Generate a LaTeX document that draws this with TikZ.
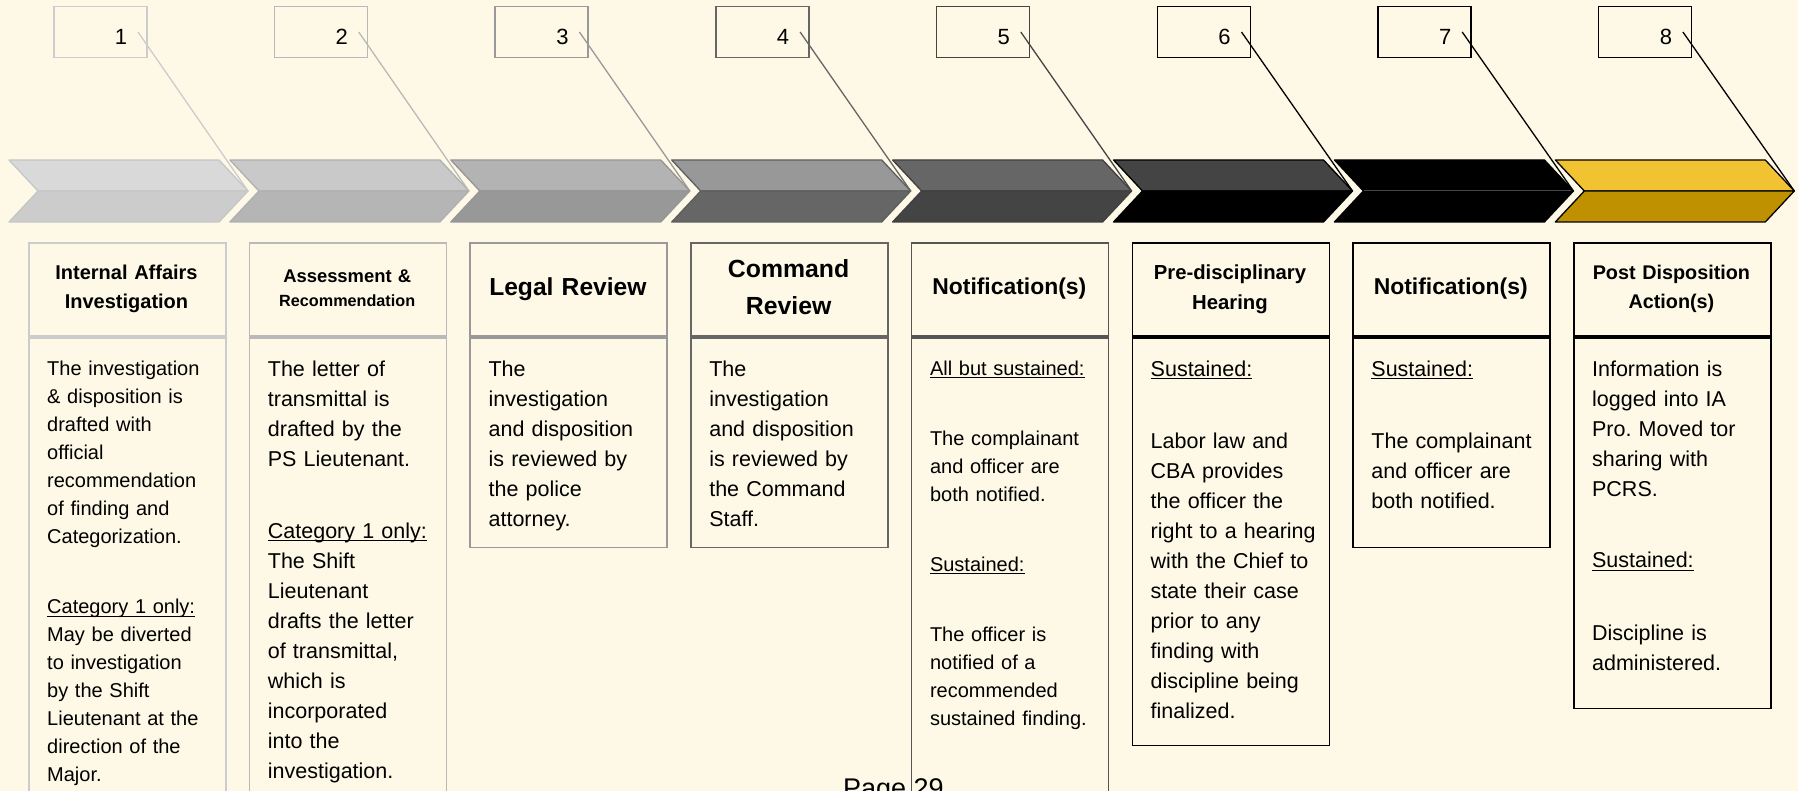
\documentclass[tikz,border=0pt]{standalone}
\usepackage{fontspec}
\setmainfont{Liberation Sans}
\frenchspacing
\definecolor{bg}{HTML}{FEF9E6}
% chevron colours
\definecolor{top1}{HTML}{D9D9D9}\definecolor{bot1}{HTML}{CCCCCC}\definecolor{out1}{HTML}{C6C6C6}\definecolor{ln1}{HTML}{CCCCCC}
\definecolor{top2}{HTML}{C9C9C9}\definecolor{bot2}{HTML}{B5B5B5}\definecolor{out2}{HTML}{B0B0B0}\definecolor{ln2}{HTML}{B9B9B9}
\definecolor{top3}{HTML}{B3B3B3}\definecolor{bot3}{HTML}{989898}\definecolor{out3}{HTML}{969696}\definecolor{ln3}{HTML}{999999}
\definecolor{top4}{HTML}{989898}\definecolor{bot4}{HTML}{666666}\definecolor{out4}{HTML}{5E5E5E}\definecolor{ln4}{HTML}{666666}
\definecolor{top5}{HTML}{666666}\definecolor{bot5}{HTML}{444444}\definecolor{out5}{HTML}{404040}\definecolor{ln5}{HTML}{444444}
\definecolor{top6}{HTML}{444444}\definecolor{bot6}{HTML}{000000}\definecolor{out6}{HTML}{000000}\definecolor{ln6}{HTML}{000000}
\definecolor{top7}{HTML}{000000}\definecolor{bot7}{HTML}{000000}\definecolor{out7}{HTML}{000000}\definecolor{ln7}{HTML}{000000}
\definecolor{top8}{HTML}{F1C232}\definecolor{bot8}{HTML}{BF9000}\definecolor{out8}{HTML}{000000}\definecolor{ln8}{HTML}{000000}
% column box colours
\definecolor{cb1}{HTML}{CCCCCC}\definecolor{cb2}{HTML}{B9B9B9}\definecolor{cb3}{HTML}{999999}\definecolor{cb4}{HTML}{666666}
\definecolor{cb5}{HTML}{555555}\definecolor{cb6}{HTML}{000000}\definecolor{cb7}{HTML}{000000}\definecolor{cb8}{HTML}{000000}
\definecolor{split7}{HTML}{464646}
\newcommand{\myul}[1]{\leavevmode\setbox0\hbox{#1}\rlap{\rule[-3pt]{\wd0}{1.1pt}}\box0}
\newcommand{\bst}{\rule{0pt}{22pt}}
\newcommand{\hst}{\rule{0pt}{30pt}}
\begin{document}
\begin{tikzpicture}[x=1pt,y=-1pt,
  numbox/.style={draw, line width=1.5pt, inner sep=0, minimum width=93pt, minimum height=51pt, anchor=north west},
  numtext/.style={inner sep=0, font=\fontsize{22}{24}\selectfont},
  hdrbox/.style={draw, line width=1.6pt, inner sep=0, minimum width=197pt, minimum height=93pt, anchor=north west},
  bodybox/.style={draw, line width=1.6pt, inner sep=0, minimum width=197pt, anchor=north west},
  hdrtext/.style={anchor=north, inner sep=0, text width=197pt, align=center},
  bodytext/.style={anchor=north west, inner sep=0, text width=200pt, align=left},
  fa/.style={font=\fontsize{20}{28}\selectfont},
  fb/.style={font=\fontsize{21.5}{30}\selectfont},
  lead/.style={line width=1.3pt}]
\useasboundingbox (0,0) rectangle (1798,791);
\fill[bg] (0,0) rectangle (1798,791);

% chevrons, number boxes and leader lines
\foreach \i in {1,...,8}{
  \pgfmathsetmacro{\L}{9+220.9*(\i-1)}
  \pgfmathsetmacro{\B}{53+220.7*(\i-1)}
  \filldraw[fill=top\i, draw=out\i, line width=1.3pt, line join=round]
    (\L,160) -- (\L+210,160) -- (\L+239,191) -- (\L+29,191) -- cycle;
  \filldraw[fill=bot\i, draw=out\i, line width=1.3pt, line join=round]
    (\L+29,191) -- (\L+239,191) -- (\L+210,222) -- (\L,222) -- cycle;
  \coordinate (t\i) at (\L+239,191);
  \node[numbox, draw=ln\i] (n\i) at (\B,6) {};
  \node[numtext] (d\i) at (\B+68,37) {\i};
  \coordinate (s\i) at (\B+85,32);
}
\draw[split7, line width=1pt] (9+220.9*6+30,191) -- (9+220.9*6+237,191);
\foreach \i in {1,...,8}{
  \draw[lead, ln\i] (s\i) -- (t\i);
}

% header boxes
\node[hdrbox, draw=cb1] (h1) at (28,242) {};
\node[hdrbox, draw=cb2] (h2) at (248.7,242) {};
\node[hdrbox, draw=cb3] (h3) at (469.4,242) {};
\node[hdrbox, draw=cb4] (h4) at (690.1,242) {};
\node[hdrbox, draw=cb5] (h5) at (910.8,242) {};
\node[hdrbox, draw=cb6] (h6) at (1131.5,242) {};
\node[hdrbox, draw=cb7] (h7) at (1352.2,242) {};
\node[hdrbox, draw=cb8] (h8) at (1572.9,242) {};

% body boxes
\node[bodybox, draw=cb1, minimum height=470pt] (b1) at (28,337) {};
\node[bodybox, draw=cb2, minimum height=470pt] (b2) at (248.7,337) {};
\node[bodybox, draw=cb3, minimum height=209.6pt] (b3) at (469.4,337) {};
\node[bodybox, draw=cb4, minimum height=209.6pt] (b4) at (690.1,337) {};
\node[bodybox, draw=cb5, minimum height=470pt] (b5) at (910.8,337) {};
\node[bodybox, draw=cb6, minimum height=407.5pt] (b6) at (1131.5,337) {};
\node[bodybox, draw=cb7, minimum height=209.6pt] (b7) at (1352.2,337) {};
\node[bodybox, draw=cb8, minimum height=370.6pt] (b8) at (1572.9,337) {};

% header texts
\node[hdrtext, font=\bfseries\fontsize{20}{29.7}\selectfont] (ht1) at (126.5,249) {\hst Internal Affairs\\Investigation};
\node[hdrtext, font=\bfseries\fontsize{18.4}{24.6}\selectfont] (ht2) at (347.2,252) {\hst Assessment \&\\{\fontsize{16.2}{24.6}\selectfont Recommendation}};
\node[hdrtext, font=\bfseries\fontsize{24.6}{30}\selectfont] (ht3) at (567.9,265.4) {\hst Legal Review};
\node[hdrtext, font=\bfseries\fontsize{24.8}{36.5}\selectfont] (ht4) at (788.6,247.5) {\hst Command\\Review};
\node[hdrtext, font=\bfseries\fontsize{22.9}{28}\selectfont] (ht5) at (1009.3,264.7) {\hst Notification(s)};
\node[hdrtext, font=\bfseries\fontsize{20.3}{29.5}\selectfont] (ht6) at (1230,249.5) {\hst Pre-disciplinary\\Hearing};
\node[hdrtext, font=\bfseries\fontsize{22.9}{28}\selectfont] (ht7) at (1450.7,264.7) {\hst Notification(s)};
\node[hdrtext, font=\bfseries\fontsize{19.8}{29.5}\selectfont] (ht8) at (1671.4,249.3) {\hst Post Disposition\\Action(s)};

% body texts
\node[bodytext, fa] (bt1) at (47,353.5) {\bst The investigation\\
\& disposition is\\
drafted with\\
official\\
recommendation\\
of finding and\\
Categorization.\\[42pt]
\myul{Category 1 only:}\\
May be diverted\\
to investigation\\
by the Shift\\
Lieutenant at the\\
direction of the\\
Major.};

\node[bodytext, fb] (bt2) at (267.7,354) {\bst The letter of\\
transmittal is\\
drafted by the\\
PS Lieutenant.\\[42pt]
\myul{Category 1 only:}\\
The Shift\\
Lieutenant\\
drafts the letter\\
of transmittal,\\
which is\\
incorporated\\
into the\\
investigation.};

\node[bodytext, fb] (bt3) at (488.4,354) {\bst The\\
investigation\\
and disposition\\
is reviewed by\\
the police\\
attorney.};

\node[bodytext, fb] (bt4) at (709.1,354) {\bst The\\
investigation\\
and disposition\\
is reviewed by\\
the Command\\
Staff.};

\node[bodytext, fa] (bt5) at (929.8,353) {\bst \myul{All but sustained:}\\[42pt]
The complainant\\
and officer are\\
both notified.\\[42pt]
\myul{Sustained:}\\[42pt]
The officer is\\
notified of a\\
recommended\\
sustained finding.};

\node[bodytext, fb] (bt6) at (1150.5,354) {\bst \myul{Sustained:}\\[42.5pt]
Labor law and\\
CBA provides\\
the officer the\\
right to a hearing\\
with the Chief to\\
state their case\\
prior to any\\
finding with\\
discipline being\\
finalized.};

\node[bodytext, fb] (bt7) at (1371.2,354) {\bst \myul{Sustained:}\\[42.5pt]
The complainant\\
and officer are\\
both notified.};

\node[bodytext, fb] (bt8) at (1591.9,354) {\bst Information is\\
logged into IA\\
Pro. Moved tor\\
sharing with\\
PCRS.\\[41.5pt]
\myul{Sustained:}\\[42.5pt]
Discipline is\\
administered.};

% page footer
\node[anchor=base west, inner sep=0, font=\fontsize{27}{30}\selectfont] (pg) at (843,797) {Page 29};
\end{tikzpicture}
\end{document}
